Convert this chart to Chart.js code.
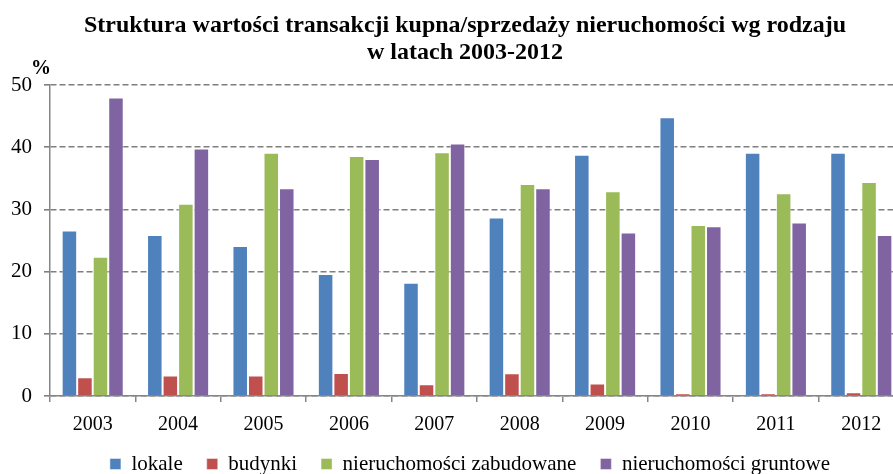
<!DOCTYPE html>
<html>
<head>
<meta charset="utf-8">
<script src="https://cdn.jsdelivr.net/npm/chart.js@4/dist/chart.umd.min.js"></script>
<style>
html,body{margin:0;padding:0;background:#fff;overflow:hidden;}
#wrap{width:893px;height:474px;overflow:hidden;position:relative;}
canvas{display:block;}
</style>
</head>
<body>
<div id="wrap"><canvas id="c" width="904" height="474"></canvas></div>
<script>
const titleLines = ['Struktura wartości transakcji kupna/sprzedaży nieruchomości wg rodzaju', 'w latach 2003-2012'];
const unitLabel = '%';
const years = ['2003','2004','2005','2006','2007','2008','2009','2010','2011','2012'];
const seriesNames = ['lokale','budynki','nieruchomości zabudowane','nieruchomości gruntowe'];
const lokale = [26.6, 25.9, 24.1, 19.6, 18.2, 28.7, 38.8, 44.8, 39.1, 39.1];
const budynki = [3.0, 3.3, 3.3, 3.7, 1.9, 3.65, 2.0, 0.45, 0.45, 0.6];
const zabudowane = [22.4, 30.9, 39.1, 38.6, 39.2, 34.1, 32.9, 27.5, 32.6, 34.4];
const gruntowe = [48.0, 39.8, 33.4, 38.1, 40.6, 33.4, 26.3, 27.3, 27.9, 25.9];
const colors = ['#4F81BD','#C0504D','#9BBB59','#8064A2'];
const yTicks = [0,10,20,30,40,50];

const serif = '"Liberation Serif", "Times New Roman", serif';

const titlePlugin = {
  id: 'titleDraw',
  afterLayout(chart) {
    // let axis labels draw outside their (narrow) boxes without being clipped
    chart.scales.y.left = 0;
    chart.scales.x.bottom = chart.height;
  },
  afterDraw(chart) {
    const ctx = chart.ctx;
    ctx.save();
    ctx.fillStyle = '#000';
    ctx.textAlign = 'center';
    ctx.textBaseline = 'alphabetic';
    ctx.font = 'bold 24px ' + serif;
    ctx.fillText(titleLines[0], 465, 32);
    ctx.fillText(titleLines[1], 465, 59);
    ctx.textAlign = 'left';
    ctx.font = 'bold 20px ' + serif;
    ctx.fillText(unitLabel, 31, 74);
    ctx.restore();
  }
};

const data = {
  labels: years,
  datasets: [lokale, budynki, zabudowane, gruntowe].map((arr, i) => ({
    label: seriesNames[i],
    data: arr,
    backgroundColor: colors[i],
    borderColor: 'rgba(255,255,255,0.45)',
    borderWidth: 1,
    barPercentage: 1.0,
    categoryPercentage: 0.727
  }))
};

new Chart(document.getElementById('c'), {
  type: 'bar',
  data,
  plugins: [titlePlugin],
  options: {
    responsive: false,
    animation: false,
    layout: { padding: { top: 85, left: 36, right: 0, bottom: 0 } },
    plugins: {
      title: { display: false },
      tooltip: { enabled: false },
      legend: {
        position: 'bottom',
        maxHeight: 44.5,
        labels: {
          font: { family: serif, size: 21 },
          color: '#000',
          boxWidth: 11,
          boxHeight: 11,
          padding: 24
        }
      }
    },
    scales: {
      x: {
        grid: { display: true, drawOnChartArea: false, drawTicks: true, tickLength: 6, color: '#868686', lineWidth: 1.5, offset: true },
        border: { display: true, color: '#868686', width: 1.5 },
        ticks: { font: { family: serif, size: 20 }, color: '#000', padding: 11, maxRotation: 0 },
        afterFit(scale) { scale.height = 33.5; }
      },
      y: {
        min: 0, max: 50,
        afterBuildTicks(scale) { scale.ticks = yTicks.map(v => ({ value: v })); },
        grid: { color: '#7f7f7f', lineWidth: 1.6, tickLength: 6, drawTicks: true },
        border: { display: true, color: '#868686', width: 1.5, dash: [6, 3] },
        ticks: { font: { family: serif, size: 21 }, color: '#000', padding: 12 },
        afterFit(scale) { scale.width = 14; }
      }
    }
  }
});
</script>
</body>
</html>
